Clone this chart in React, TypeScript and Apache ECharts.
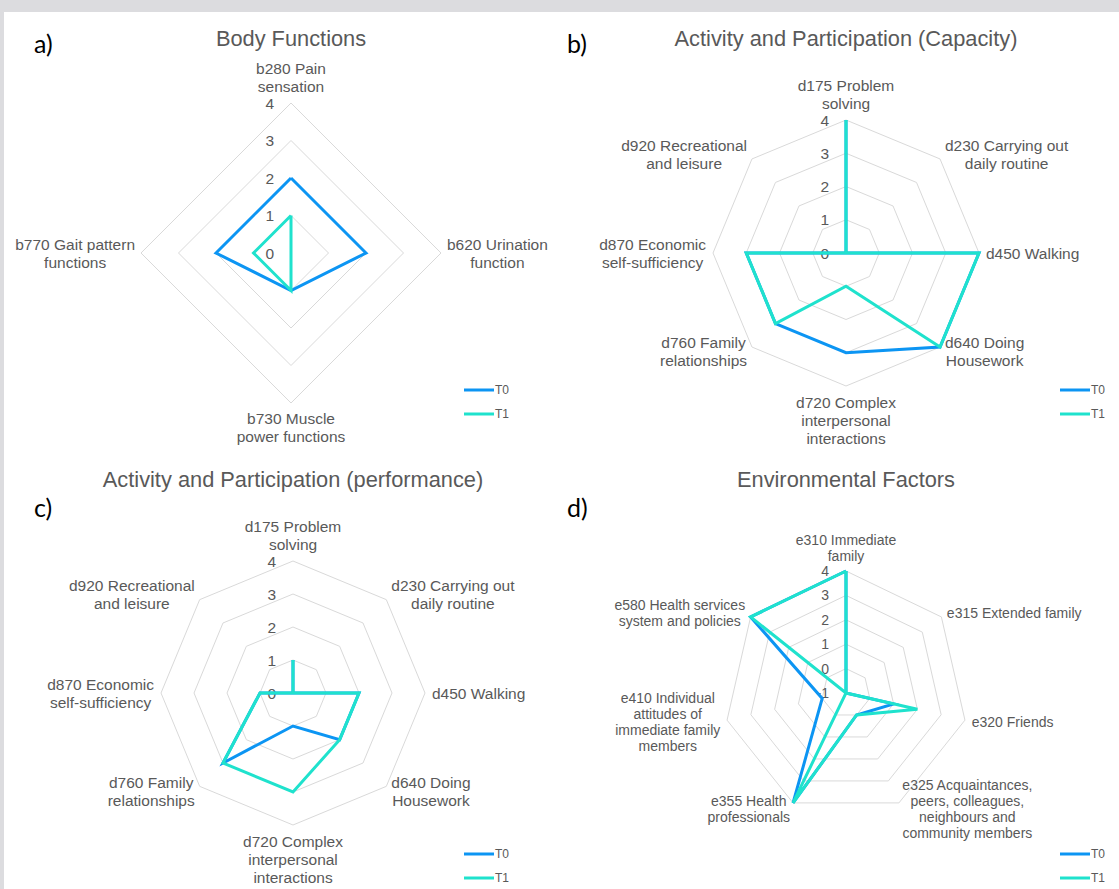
import React, { useEffect, useRef } from "react";
import * as echarts from "echarts";

// ---------- data ----------
const seriesNames = ["T0", "T1"];
const panelLetters = ["a)", "b)", "c)", "d)"];
const panelTitles = [
  "Body Functions",
  "Activity and Participation (Capacity)",
  "Activity and Participation (performance)",
  "Environmental Factors",
];

// indicators listed clockwise from the top
const bodyIndicators = [
  "b280 Pain\nsensation",
  "b620 Urination\nfunction",
  "b730 Muscle\npower functions",
  "b770 Gait pattern\nfunctions",
];
const bodyT0 = [2, 2, 1, 2];
const bodyT1 = [1, 0, 1, 1];

const activityIndicators = [
  "d175 Problem\nsolving",
  "d230 Carrying out\ndaily routine",
  "d450 Walking",
  "d640 Doing\nHousework",
  "d720 Complex\ninterpersonal\ninteractions",
  "d760 Family\nrelationships",
  "d870 Economic\nself-sufficiency",
  "d920 Recreational\nand leisure",
];
const capacityT0 = [4, 0, 4, 4, 3, 3, 3, 0];
const capacityT1 = [4, 0, 4, 4, 1, 3, 3, 0];
const performanceT0 = [1, 0, 2, 2, 1, 3, 1, 0];
const performanceT1 = [1, 0, 2, 2, 3, 3, 1, 0];

const envIndicators = [
  "e310 Immediate\nfamily",
  "e315 Extended family",
  "e320 Friends",
  "e325 Acquaintances,\npeers, colleagues,\nneighbours and\ncommunity members",
  "e355 Health\nprofessionals",
  "e410 Individual\nattitudes of\nimmediate family\nmembers",
  "e580 Health services\nsystem and policies",
];
const envT0 = [4, -1, 1, 0, 4, 0, 4];
const envT1 = [4, -1, 2, 0, 4, -1, 4];

const scaleMin = [0, 0, 0, -1];
const scaleMax = [4, 4, 4, 4];

// ---------- style / layout ----------
const T0_COLOR = "#0c95f3";
const T1_COLOR = "#1fe2cd";
const TEXT = "#595959";
const GRID = "#d9d9d9";
const FONT = '"Liberation Sans", Arial, Helvetica, sans-serif';

const layouts = [
  { cx: 291, cy: 253, r: 150, gap: 6, font: 15.5, lh: 18, tx: 291, ty: 26, lx: 34, ly: 29, legX: 464, legY: 383 },
  { cx: 846, cy: 253, r: 133, gap: 7, font: 15.5, lh: 18, tx: 846, ty: 26, lx: 567, ly: 29, legX: 1060, legY: 383 },
  { cx: 293, cy: 693, r: 132, gap: 7, font: 15.5, lh: 18, tx: 293, ty: 467, lx: 34, ly: 493, legX: 464, legY: 847 },
  { cx: 846, cy: 693, r: 122, gap: 7, font: 14, lh: 16, tx: 846, ty: 467, lx: 567, ly: 493, legX: 1060, legY: 847 },
];

// ECharts lays radar indicators out counter-clockwise; reorder to get clockwise
const cw = <T,>(arr: T[]): T[] => [arr[0], ...arr.slice(1).reverse()];

const panels = [
  { names: bodyIndicators, t0: bodyT0, t1: bodyT1 },
  { names: activityIndicators, t0: capacityT0, t1: capacityT1 },
  { names: activityIndicators, t0: performanceT0, t1: performanceT1 },
  { names: envIndicators, t0: envT0, t1: envT1 },
];

export default function App() {
  const ref = useRef<HTMLDivElement>(null);

  useEffect(() => {
    if (!ref.current) return;
    const chart = echarts.init(ref.current, undefined, { renderer: "svg" });

    const radar = panels.map((p, i) => {
      const L = layouts[i];
      const names = cw(p.names);
      return {
        center: [L.cx, L.cy],
        radius: L.r,
        startAngle: 90,
        shape: "polygon",
        splitNumber: scaleMax[i] - scaleMin[i],
        nameGap: L.gap,
        axisName: {
          color: TEXT,
          fontSize: L.font,
          lineHeight: L.lh,
          fontFamily: FONT,
          formatter: (v: string) =>
            v
              .split("\n")
              .map((s) => `{c|${s}}`)
              .join("\n"),
          rich: {
            c: {
              align: "center",
              color: TEXT,
              fontSize: L.font,
              lineHeight: L.lh,
              fontFamily: FONT,
            },
          },
        },
        axisLine: { show: false },
        axisTick: { show: false },
        axisLabel: { show: false },
        splitLine: { lineStyle: { color: GRID, width: 1 } },
        splitArea: { show: false },
        indicator: names.map((n, k) => ({
          name: n,
          min: scaleMin[i],
          max: scaleMax[i],
          ...(k === 0
            ? {
                axisLabel: {
                  show: true,
                  color: TEXT,
                  fontSize: L.font,
                  fontFamily: FONT,
                  margin: 17,
                  showMinLabel: true,
                  showMaxLabel: true,
                },
              }
            : {}),
        })),
      };
    });

    const series = panels.map((p, i) => ({
      type: "radar",
      radarIndex: i,
      symbol: "none",
      silent: true,
      data: [
        {
          name: seriesNames[0],
          value: cw(p.t0),
          lineStyle: { color: T0_COLOR, width: 3, join: "miter" },
          itemStyle: { color: T0_COLOR },
        },
        {
          name: seriesNames[1],
          value: cw(p.t1),
          lineStyle: { color: T1_COLOR, width: 3, join: "miter" },
          itemStyle: { color: T1_COLOR },
        },
      ],
    }));

    const titles: any[] = [];
    layouts.forEach((L, i) => {
      titles.push({
        text: panelTitles[i],
        left: L.tx,
        top: L.ty,
        textAlign: "center",
        padding: 0,
        textStyle: {
          color: TEXT,
          fontSize: 21.8,
          fontWeight: "normal",
          fontFamily: FONT,
          lineHeight: 24,
        },
      });
      titles.push({
        text: panelLetters[i],
        left: L.lx,
        top: L.ly,
        padding: 0,
        textStyle: {
          color: "#000",
          fontSize: 25,
          fontWeight: "normal",
          fontFamily: "Lato, 'Open Sans', sans-serif",
          lineHeight: 28,
        },
      });
    });

    const legends = layouts.map((L) => ({
      data: seriesNames,
      orient: "vertical",
      left: L.legX,
      top: L.legY,
      icon: "rect",
      itemWidth: 30,
      itemHeight: 3,
      itemGap: 10,
      padding: 0,
      selectedMode: false,
      textStyle: {
        color: TEXT,
        fontSize: 12,
        lineHeight: 14,
        fontFamily: FONT,
        padding: [0, 0, 0, -4],
      },
    }));

    chart.setOption({
      animation: false,
      backgroundColor: "transparent",
      title: titles,
      legend: legends,
      radar,
      series,
    });

    return () => chart.dispose();
  }, []);

  return (
    <div
      style={{
        position: "absolute",
        left: 0,
        top: 0,
        width: 1119,
        height: 889,
        background: "#dcdcdf",
        overflow: "hidden",
      }}
    >
      <div
        style={{
          position: "absolute",
          left: 4,
          top: 12,
          width: 1115,
          height: 877,
          background: "#ffffff",
        }}
      />
      <div
        ref={ref}
        style={{ position: "absolute", left: 0, top: 0, width: 1119, height: 889 }}
      />
    </div>
  );
}
